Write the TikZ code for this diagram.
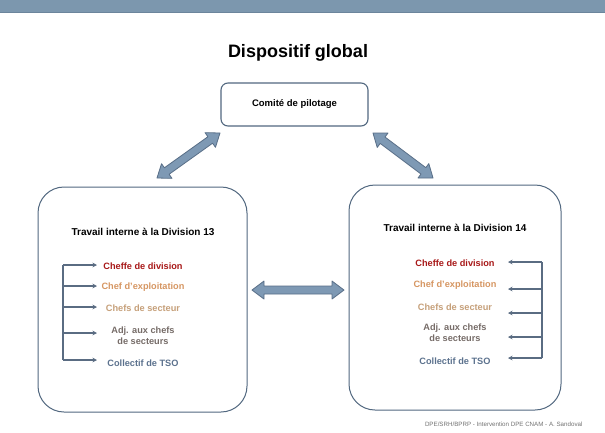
\documentclass[tikz,border=0pt]{standalone}
\usepackage{fontspec}
\setmainfont{Liberation Sans}
\usetikzlibrary{arrows.meta,calc,positioning}
\definecolor{bar}{RGB}{124,151,174}
\definecolor{barline}{RGB}{108,133,156}
\definecolor{frame}{RGB}{82,104,128}
\definecolor{fat}{RGB}{126,153,180}
\definecolor{fatline}{RGB}{88,110,135}
\definecolor{spine}{RGB}{90,108,130}
\definecolor{cred}{RGB}{168,24,24}
\definecolor{corange}{RGB}{214,150,98}
\definecolor{ctan}{RGB}{198,160,122}
\definecolor{cgray}{RGB}{118,108,104}
\definecolor{cblue}{RGB}{92,114,142}
\tikzset{
  box/.style={draw=frame, line width=1.1pt, rounded corners=7pt, fill=white},
  bigbox/.style={draw=frame, line width=1pt, rounded corners=26pt},
  head/.style={font=\bfseries\fontsize{10}{12}\selectfont, inner sep=0pt},
  item/.style={font=\bfseries\fontsize{9.2}{11}\selectfont, inner sep=0pt,
    align=center},
  branch/.style={draw=spine, line width=2pt, -{Stealth[length=4.5pt,width=4.5pt]}},
  spineline/.style={draw=spine, line width=2.4pt},
  fatarrow/.style={fill=fat, draw=fatline, line width=0.8pt, line join=round}
}
% fat double arrow between two named coordinates
\newcommand{\fatarrow}[2]{%
  \filldraw[fatarrow] (#1)
    -- ($(#1)!12pt!(#2)!9pt!90:(#2)$)
    -- ($(#1)!12pt!(#2)!4pt!90:(#2)$)
    -- ($(#2)!12pt!(#1)!4pt!-90:(#1)$)
    -- ($(#2)!12pt!(#1)!9pt!-90:(#1)$)
    -- (#2)
    -- ($(#2)!12pt!(#1)!9pt!90:(#1)$)
    -- ($(#2)!12pt!(#1)!4pt!90:(#1)$)
    -- ($(#1)!12pt!(#2)!4pt!-90:(#2)$)
    -- ($(#1)!12pt!(#2)!9pt!-90:(#2)$)
    -- cycle;}
\begin{document}
\begin{tikzpicture}[x=1pt, y=-1pt]
  \useasboundingbox[fill=white] (0,0) rectangle (605,432);
  \fill[bar] (0,0) rectangle (605,12);
  \draw[barline, line width=0.8pt] (0,12) -- (605,12);

  \node[font=\bfseries\fontsize{18}{20}\selectfont] (title) at (298,53)
  {Dispositif global};

  \node[box, minimum width=147pt, minimum height=43pt, head,
  font=\bfseries\fontsize{9.5}{11}\selectfont] (pilot) at (294.5,104.5)
  {Comité de pilotage};

  \node[bigbox, minimum width=209pt, minimum height=225pt] (div13)
  at (142.5,299.5) {};
  \node[bigbox, minimum width=212pt, minimum height=225pt] (div14)
  at (455,297.5) {};

  % division 13
  \node[head] (h13) at (143,232) {Travail interne à la Division 13};
  \node[item, text=cred] (c13a) at (143,266) {Cheffe de division};
  \node[item, text=corange] (c13b) at (143,287) {Chef d'exploitation};
  \node[item, text=ctan] (c13c) at (143,308) {Chefs de secteur};
  \node[item, text=cgray] (c13d) at (143,336) {Adj. aux chefs\\de secteurs};
  \node[item, text=cblue] (c13e) at (143,363) {Collectif de TSO};

  \foreach \y [count=\i] in {265,286,307,333,360} {
    \coordinate (s13\i) at (63,\y);
    \coordinate (e13\i) at (97,\y);
    \draw[branch] (s13\i) -- (e13\i);
  }
  \draw[spineline] (s131) -- (s135);

  % division 14
  \node[head] (h14) at (455,228) {Travail interne à la Division 14};
  \node[item, text=cred] (c14a) at (455,263) {Cheffe de division};
  \node[item, text=corange] (c14b) at (455,285) {Chef d'exploitation};
  \node[item, text=ctan] (c14c) at (455,307) {Chefs de secteur};
  \node[item, text=cgray] (c14d) at (455,333) {Adj. aux chefs\\de secteurs};
  \node[item, text=cblue] (c14e) at (455,361) {Collectif de TSO};

  \foreach \y [count=\i] in {262,289,313,337,358} {
    \coordinate (s14\i) at (542,\y);
    \coordinate (e14\i) at (508,\y);
    \draw[branch] (s14\i) -- (e14\i);
  }
  \draw[spineline] (s141) -- (s145);

  % links
  \coordinate (pl) at (220,133);
  \coordinate (dl) at (157,178);
  \coordinate (pr) at (373,133);
  \coordinate (dr) at (433,178);
  \coordinate (ml) at (252,290);
  \coordinate (mr) at (344,290);
  \fatarrow{pl}{dl}
  \fatarrow{pr}{dr}
  \fatarrow{ml}{mr}

  \node[font=\fontsize{6.2}{7}\selectfont, text=black!55, anchor=east]
  (foot) at (586,424) {DPE/SRH/BPRP - Intervention DPE CNAM - A. Sandoval};
\end{tikzpicture}
\end{document}
